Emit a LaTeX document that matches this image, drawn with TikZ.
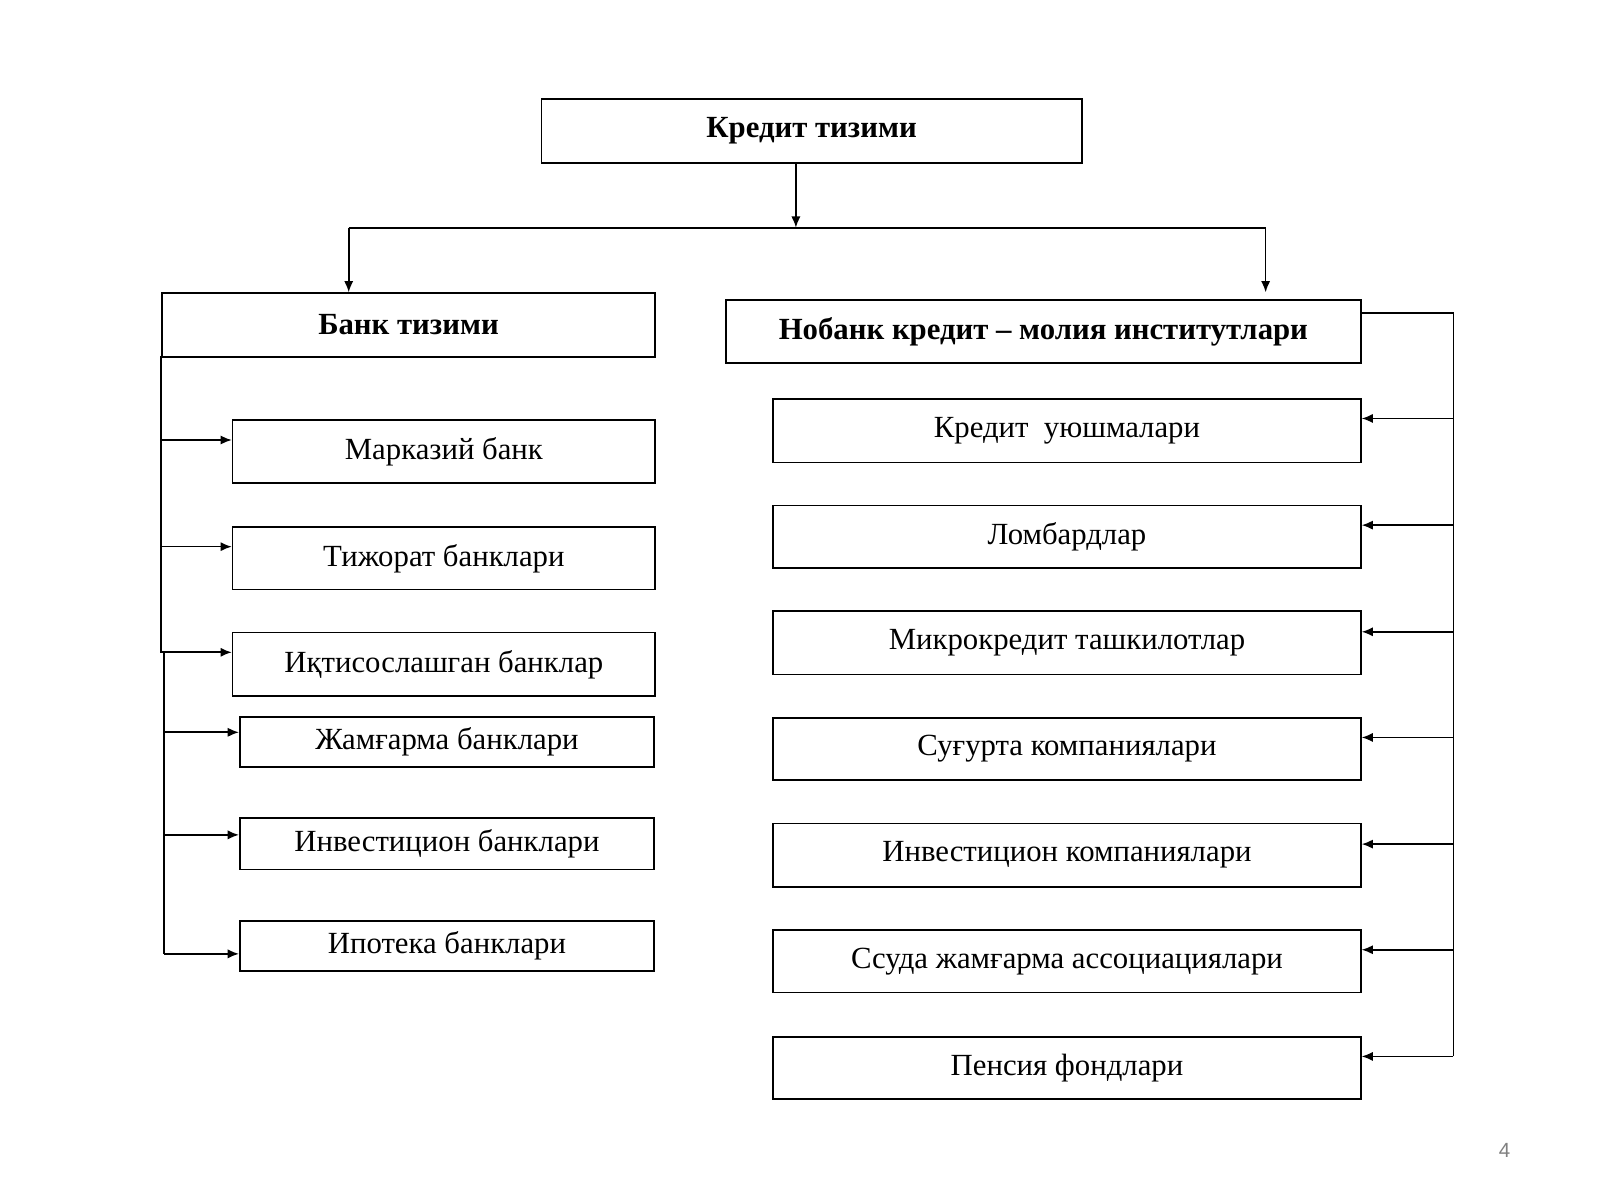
\documentclass[tikz,border=0pt]{standalone}
\usepackage{fontspec}
\setmainfont{Liberation Serif}
\usetikzlibrary{arrows.meta}
\begin{document}
\begin{tikzpicture}[x=1pt,y=-1pt,
 box/.style={draw,line width=1.6pt,inner sep=0pt,font=\fontsize{30}{34}\selectfont},
 ln/.style={line width=1.6pt},
 ar/.style={ln,-{Latex[length=11pt,width=9pt]}}]
\useasboundingbox (0,0) rectangle (1560,1170);
\newcommand\bx[6]{\node[box,minimum width=#4-#2,minimum height=#5-#3,anchor=north west] (#1) at (#2,#3) {#6};}
\bx{top}{527}{96}{1054}{158}{\bfseries Кредит тизими}
\bx{bank}{157}{285}{638}{347}{\bfseries Банк тизими}
\bx{nb}{707}{292}{1326}{353}{\bfseries Нобанк кредит – молия институтлари}
\bx{l1}{226}{409}{638}{470}{Марказий банк}
\bx{l2}{226}{513}{638}{574}{Тижорат банклари}
\bx{l3}{226}{616}{638}{678}{Иқтисослашган банклар}
\bx{l4}{233}{698}{637}{747}{Жамғарма банклари}
\bx{l5}{233}{797}{637}{847}{Инвестицион банклари}
\bx{l6}{233}{897}{637}{946}{Ипотека банклари}
\bx{r1}{753}{388}{1326}{450}{Кредит\ \ уюшмалари}
\bx{r2}{753}{492}{1326}{553}{Ломбардлар}
\bx{r3}{753}{595}{1326}{657}{Микрокредит ташкилотлар}
\bx{r4}{753}{699}{1326}{760}{Суғурта компаниялари}
\bx{r5}{753}{802}{1326}{864}{Инвестицион компаниялари}
\bx{r6}{753}{906}{1326}{967}{Ссуда жамғарма ассоциациялари}
\bx{r7}{753}{1010}{1326}{1071}{Пенсия фондлари}
\coordinate (t) at (776,158);
\coordinate (tb) at (776,222);
\draw[ar] (t) -- (tb);
\draw[ln] (340,222) -- (1234,222);
\draw[ar] (340,222) -- (340,285);
\draw[ar] (1234,222) -- (1234,285);
\draw[ln] (157,347) -- (157,636) -- (160,636) -- (160,930);
\foreach \n/\y in {l1/429,l2/533,l3/636}{\draw[ar] (157,\y) -- (\n.west|-0,\y);}
\foreach \n/\y in {l4/714,l5/814,l6/930}{\draw[ar] (160,\y) -- (\n.west|-0,\y);}
\draw[ln] (1326,305) -- (1417,305) -- (1417,1030);
\foreach \n/\y in {r1/408,r2/512,r3/616,r4/719,r5/823,r6/926,r7/1030}{\draw[ar] (1417,\y) -- (\n.east|-0,\y);}
\node[font=\fontspec{Liberation Sans}\fontsize{20}{22}\selectfont,text=gray] (pg) at (1467,1122) {4};
\end{tikzpicture}
\end{document}
